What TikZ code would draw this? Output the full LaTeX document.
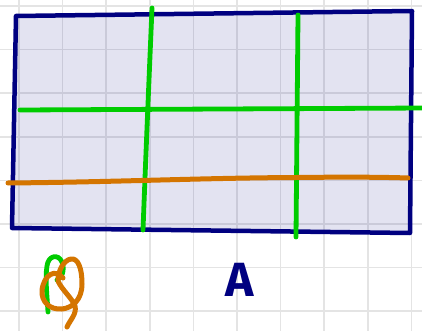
\documentclass[tikz,border=0pt]{standalone}
\usepackage{fontspec}
\newfontfamily\handfont{Fira Sans}
\definecolor{navyc}{RGB}{0,0,128}
\definecolor{greenc}{RGB}{0,204,0}
\definecolor{orangec}{RGB}{212,117,0}
\definecolor{gridc}{RGB}{228,228,228}
\tikzset{
  gridline/.style={draw=gridc, line width=1.5pt},
  quadbox/.style={draw=navyc, line width=4.5pt, fill=navyc, fill opacity=0.11, draw opacity=1, line join=round},
  greenstroke/.style={draw=greenc, line width=4.8pt, line cap=round, line join=round},
  orangestroke/.style={draw=orangec, line width=5pt, line cap=round, line join=round},
}
\begin{document}
\begin{tikzpicture}[x=1pt,y=-1pt]
\useasboundingbox (0,0) rectangle (422,331);
\clip (0,0) rectangle (422,331);
\fill[white] (0,0) rectangle (422,331);
% grid
\foreach \i in {0,...,9} { \draw[gridline] ({19+43.6*\i},0) -- ({19+43.6*\i},331); }
\foreach \j in {0,...,7} { \draw[gridline] (0,{6+43.6*\j}) -- (422,{6+43.6*\j}); }
% quadrilateral
\coordinate (tl) at (16,16);
\coordinate (tr) at (412,11);
\coordinate (br) at (410,233);
\coordinate (bl) at (12,228);
\path[quadbox] (tl) -- (tr) -- (br) -- (bl) -- cycle;
% green lines
\coordinate (g1t) at (152,8);
\coordinate (g1b) at (143,230);
\coordinate (g2t) at (298,15);
\coordinate (g2b) at (296,237);
\coordinate (ghl) at (20,110);
\coordinate (ghr) at (426,108);
\draw[greenstroke] (g1t) .. controls (149,80) and (146,150) .. (g1b);
\draw[greenstroke] (g2t) -- (g2b);
\draw[greenstroke] (ghl) -- (ghr);
% orange line
\coordinate (ol) at (8,183);
\coordinate (or) at (408,178);
\draw[orangestroke] (ol) .. controls (120,182) and (200,178) .. (296,177.5) .. controls (340,177) and (380,177) .. (or);
% green scribble
\draw[greenstroke] (48,312) .. controls (47,295) and (45,278) .. (47,266)
  .. controls (48,256) and (58,253) .. (62,262)
  .. controls (65,270) and (62,278) .. (57,280);
% orange scribble
\draw[orangestroke] (63,278) .. controls (55,268) and (44,275) .. (42,290)
  .. controls (41,302) and (50,310) .. (62,309)
  .. controls (72,308) and (82,300) .. (82,284)
  .. controls (82,268) and (78,258) .. (71,259)
  .. controls (64,260) and (58,270) .. (58,281)
  .. controls (62,290) and (72,298) .. (75,306)
  .. controls (77,314) and (70,320) .. (67,327);
% letter A
\node[text=navyc, font=\handfont\fontsize{48}{48}\selectfont\bfseries, inner sep=0pt] (lblA) at (240,280) {A};
\end{tikzpicture}
\end{document}
